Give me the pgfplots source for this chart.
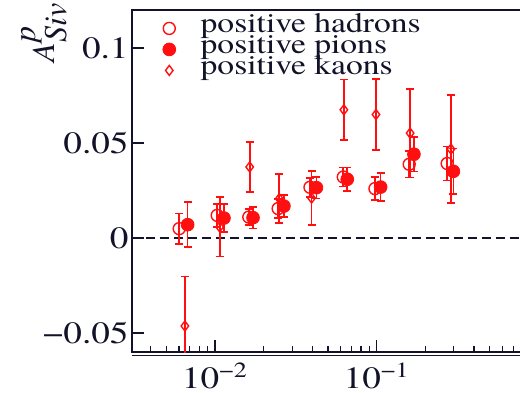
\documentclass[border=0pt]{standalone}
\usepackage{fontspec}
\setmainfont{TeX Gyre Termes}[FakeStretch=1.2]
\newfontfamily\labelfont{TeX Gyre Termes}
\usepackage{pgfplots}
\usepackage{pgfplotstable}
\pgfplotsset{compat=1.18}
\definecolor{ink}{RGB}{18,18,40}
\definecolor{sivred}{RGB}{255,15,15}

% Sivers asymmetry on proton, x-binned: x, value, stat. error
\pgfplotstableread{
x        y        e
0.00601  0.0049   0.0080
0.01033  0.0119   0.0060
0.0162   0.0110   0.0042
0.0246   0.0155   0.0050
0.0387   0.0267   0.0050
0.0622   0.0321   0.0050
0.0976   0.0260   0.0060
0.159    0.0388   0.0070
0.273    0.0392   0.0090
}\hadrons

\pgfplotstableread{
x        y        e
0.00678  0.0070   0.0118
0.01137  0.0105   0.0073
0.0172   0.0107   0.0057
0.0267   0.0168   0.0057
0.0424   0.0265   0.0057
0.0658   0.0309   0.0062
0.1058   0.0268   0.0075
0.170    0.0441   0.0091
0.298    0.0351   0.0120
}\pions

\pgfplotstableread{
x        y        e
0.00652  -0.0463  0.0260
0.0107   0.0058   0.0156
0.0164   0.0374   0.0132
0.0250   0.0207   0.0129
0.0396   0.0210   0.0143
0.0627   0.0675   0.0160
0.0990   0.0650   0.0187
0.161    0.0552   0.0234
0.288    0.0468   0.0283
}\kaons

\begin{document}
\begin{tikzpicture}
\path[use as bounding box, clip] (0,0) rectangle (260pt,196pt);
\begin{axis}[
  name=ax, at={(66pt,20pt)}, anchor=south west,
  scale only axis, width=203.2pt, height=171pt,
  xmode=log, xmin=0.00307, xmax=1, ymin=-0.06, ymax=0.12,
  xtick={0.01,0.1},
  xticklabels={10\textsuperscript{−2},10\textsuperscript{−1}},
  minor xtick={0.004,0.005,0.006,0.007,0.008,0.009,0.02,0.03,0.04,0.05,0.06,0.07,0.08,0.09,0.2,0.3,0.4,0.5,0.6,0.7,0.8,0.9},
  ytick={-0.05,0,0.05,0.1},
  yticklabels={−0.05,0,0.05,0.1},
  xtick pos=bottom, ytick pos=left, tick align=inside,
  major tick length=6pt, minor tick length=3.2pt,
  tick style={ink, line width=0.6pt},
  axis line style={ink, line width=0.7pt},
  ticklabel style={font=\fontsize{15.5}{15.5}\selectfont, text=ink},
  yticklabel style={inner xsep=1.5pt},
  xticklabel style={yshift=-2pt},
  ylabel={\textit{A}$^{\textit{p}}_{\textit{Siv}}$},
  ylabel style={at={(axis description cs:-0.2153,0.935)}, anchor=center,
                font=\labelfont\fontsize{16}{16}\selectfont, text=ink},
  legend style={draw=none, fill=none, at={(axis description cs:0.075,0.978)},
                anchor=north west, font=\fontsize{14}{10}\selectfont,
                text=ink, row sep=0pt, inner sep=0pt,
                nodes={inner sep=0pt, text height=7.5pt, text depth=3pt},
                /tikz/every odd column/.append style={column sep=12.5pt}},
  legend cell align=left,
  error bars/y dir=both, error bars/y explicit,
  error bars/error bar style={sivred, line width=0.85pt},
  error bars/error mark options={rotate=90, mark size=2pt, line width=0.85pt, sivred},
]
\draw[ink, dash pattern=on 4.5pt off 2.5pt, line width=0.6pt]
  (axis cs:0.00307,0) -- (axis cs:1,0);
\addplot[only marks, mark=o, mark size=3pt, sivred, mark options={line width=0.7pt}]
  table[x=x, y=y, y error=e] {\hadrons};
\addlegendentry{positive hadrons}
\addplot[only marks, mark=*, mark size=3.2pt, sivred]
  table[x=x, y=y, y error=e] {\pions};
\addlegendentry{positive pions}
\addplot[only marks, mark=diamond, mark size=2.5pt, sivred, mark options={line width=0.7pt, fill=white}]
  table[x=x, y=y, y error=e] {\kaons};
\addlegendentry{positive kaons}
\end{axis}
\draw[ink, line width=0.6pt] ([yshift=-1.7pt]ax.south west) -- ([yshift=-1.7pt]ax.south east);
\end{tikzpicture}
\end{document}
